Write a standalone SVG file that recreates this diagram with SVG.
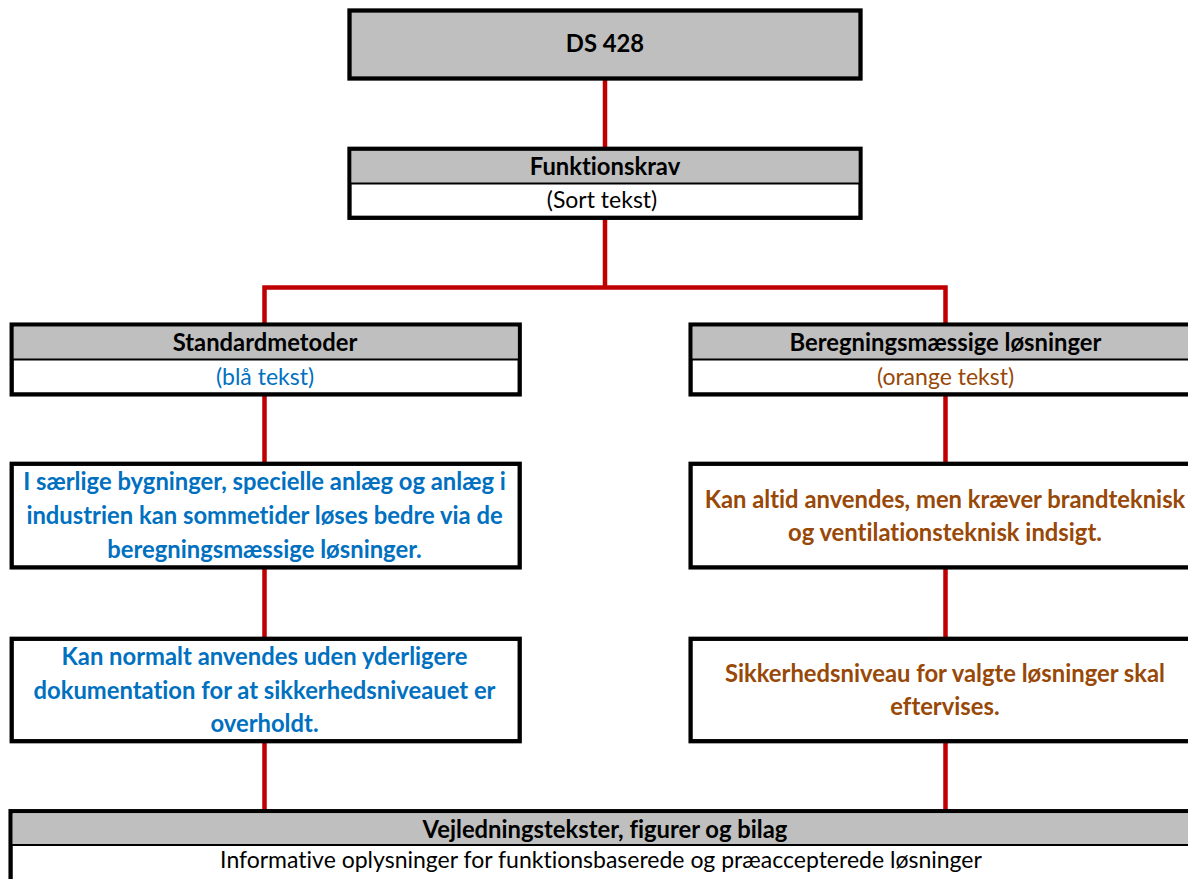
<svg xmlns="http://www.w3.org/2000/svg" width="1188" height="879" viewBox="0 0 1188 879">
<style>
  .box { fill: #FFFFFF; stroke: #000000; stroke-width: 4.3; }
  .hdr { fill: #BFBFBF; stroke: none; }
  .sep { stroke: #000000; stroke-width: 1.8; }
  .conn { fill: none; stroke: #C00000; stroke-width: 4.5; stroke-linejoin: miter; }
  text { font-family: Lato, "Open Sans", "Liberation Sans", sans-serif; font-size: 23px; text-anchor: middle; font-variant-ligatures: none; }
  .b { font-weight: bold; font-size: 23.8px; }
  .k { fill: #000000; }
  .blue { fill: #0070C0; }
  .orange { fill: #984807; }
</style>
<rect width="1188" height="879" fill="#FFFFFF"/>
<g id="connectors">
  <path class="conn" d="M605,80 V147"/>
  <path class="conn" d="M605,219 V287.5 M264.5,323 V287.5 H945.5 V323"/>
  <path class="conn" d="M264.5,396 V462 M264.5,569 V637 M264.5,743 V810"/>
  <path class="conn" d="M945.5,396 V462 M945.5,569 V637 M945.5,743 V810"/>
</g>
<g id="ds428">
  <rect class="box" x="349.5" y="10.5" width="511" height="68" style="fill:#BFBFBF"/>
  <text class="b k" x="605" y="52">DS 428</text>
</g>
<g id="funktionskrav">
  <rect class="box" x="349.5" y="148.8" width="511" height="69"/>
  <rect class="hdr" x="351.6" y="150.9" width="506.8" height="32.1"/>
  <line class="sep" x1="351" y1="183.5" x2="859" y2="183.5"/>
  <text class="b k" x="605" y="175">Funktionskrav</text>
  <text class="k" x="602" y="208">(Sort tekst)</text>
</g>
<g id="standardmetoder">
  <rect class="box" x="11.7" y="324.6" width="508" height="69.8"/>
  <rect class="hdr" x="13.8" y="326.7" width="503.8" height="32.3"/>
  <line class="sep" x1="13" y1="359.5" x2="518" y2="359.5"/>
  <text class="b k" x="265" y="351">Standardmetoder</text>
  <text class="blue" x="265" y="384.5">(blå tekst)</text>
</g>
<g id="beregning">
  <rect class="box" x="690.6" y="324.6" width="509" height="69.8"/>
  <rect class="hdr" x="692.7" y="326.7" width="504.8" height="32.3"/>
  <line class="sep" x1="692" y1="359.5" x2="1198" y2="359.5"/>
  <text class="b k" x="945.5" y="351">Beregningsmæssige løsninger</text>
  <text class="orange" x="945.5" y="384.5">(orange tekst)</text>
</g>
<g id="std-saerlige">
  <rect class="box" x="11.7" y="463.8" width="508" height="103.6"/>
  <text class="b blue" x="264.5" y="490">I særlige bygninger, specielle anlæg og anlæg i</text>
  <text class="b blue" x="264.5" y="524">industrien kan sommetider løses bedre via de</text>
  <text class="b blue" x="264.5" y="557.5">beregningsmæssige løsninger.</text>
</g>
<g id="ber-altid">
  <rect class="box" x="690.6" y="463.8" width="509" height="103.6"/>
  <text class="b orange" x="945" y="508">Kan altid anvendes, men kræver brandteknisk</text>
  <text class="b orange" x="945" y="541">og ventilationsteknisk indsigt.</text>
</g>
<g id="std-normalt">
  <rect class="box" x="11.7" y="638.8" width="508" height="102.4"/>
  <text class="b blue" x="264.5" y="665">Kan normalt anvendes uden yderligere</text>
  <text class="b blue" x="264.5" y="699">dokumentation for at sikkerhedsniveauet er</text>
  <text class="b blue" x="264.5" y="732">overholdt.</text>
</g>
<g id="ber-sikkerhed">
  <rect class="box" x="690.6" y="638.8" width="509" height="102.4"/>
  <text class="b orange" x="945" y="682">Sikkerhedsniveau for valgte løsninger skal</text>
  <text class="b orange" x="945" y="715">eftervises.</text>
</g>
<g id="vejledning">
  <rect class="box" x="10.6" y="811.2" width="1190" height="80"/>
  <rect class="hdr" x="12.7" y="813.3" width="1186" height="31.2"/>
  <line class="sep" x1="12" y1="845" x2="1199" y2="845"/>
  <text class="b k" x="605" y="838">Vejledningstekster, figurer og bilag</text>
  <text class="k" x="601" y="868">Informative oplysninger for funktionsbaserede og præaccepterede løsninger</text>
</g>
</svg>
